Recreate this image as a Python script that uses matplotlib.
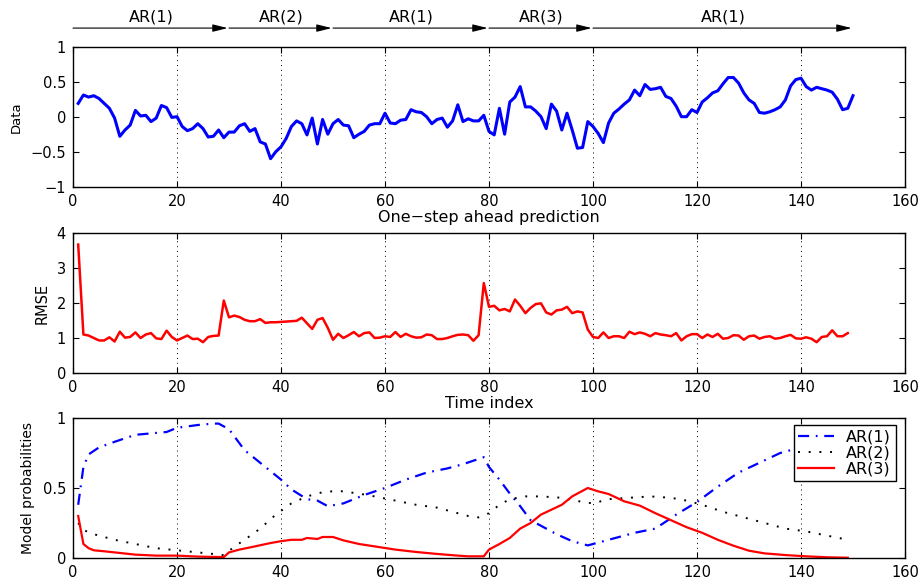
import matplotlib
matplotlib.use("Agg")
import matplotlib.pyplot as plt
import numpy as np

# one-step ahead data, t = 1..150
data_vals = [
    0.19, 0.31, 0.28, 0.30, 0.26, 0.19, 0.12, -0.02, -0.28, -0.19,
    -0.12, 0.09, 0.01, 0.02, -0.07, -0.02, 0.16, 0.13, -0.01, 0.00,
    -0.14, -0.20, -0.17, -0.10, -0.17, -0.29, -0.28, -0.19, -0.30, -0.22,
    -0.22, -0.13, -0.10, -0.21, -0.17, -0.36, -0.39, -0.60, -0.50, -0.43,
    -0.31, -0.14, -0.06, -0.10, -0.26, -0.02, -0.39, -0.04, -0.25, -0.10,
    -0.04, -0.12, -0.13, -0.30, -0.25, -0.21, -0.12, -0.10, -0.10, 0.05,
    -0.09, -0.10, -0.05, -0.04, 0.10, 0.07, 0.06, 0.00, -0.10, -0.04,
    -0.02, -0.15, -0.06, 0.17, -0.07, -0.03, -0.06, -0.06, 0.02, -0.21,
    -0.26, 0.12, -0.25, 0.21, 0.28, 0.43, 0.14, 0.14, 0.08, 0.00,
    -0.17, 0.18, 0.08, -0.19, 0.05, -0.19, -0.45, -0.44, -0.07, -0.14,
    -0.24, -0.37, -0.09, 0.05, 0.11, 0.18, 0.24, 0.38, 0.30, 0.46,
    0.39, 0.40, 0.42, 0.29, 0.26, 0.15, 0.00, 0.00, 0.10, 0.06,
    0.21, 0.27, 0.34, 0.37, 0.47, 0.56, 0.56, 0.48, 0.34, 0.24,
    0.19, 0.06, 0.05, 0.07, 0.10, 0.14, 0.24, 0.44, 0.53, 0.55,
    0.43, 0.38, 0.42, 0.40, 0.38, 0.35, 0.25, 0.10, 0.12, 0.30,
]

# RMSE, t = 1..149
rmse_vals = [
    3.67, 1.10, 1.07, 1.00, 0.93, 0.93, 1.02, 0.90, 1.18, 1.01,
    1.03, 1.16, 1.00, 1.10, 1.14, 0.99, 0.97, 1.21, 1.03, 0.93,
    1.00, 1.07, 0.97, 0.98, 0.88, 1.03, 1.06, 1.07, 2.07, 1.59,
    1.64, 1.60, 1.52, 1.48, 1.48, 1.54, 1.43, 1.45, 1.45, 1.46,
    1.47, 1.48, 1.49, 1.58, 1.42, 1.26, 1.52, 1.57, 1.29, 0.95,
    1.12, 1.00, 1.08, 1.17, 1.05, 1.14, 1.16, 1.00, 1.01, 1.05,
    1.03, 1.17, 1.03, 1.12, 1.05, 1.01, 1.02, 1.10, 1.08, 0.97,
    0.97, 1.00, 1.05, 1.09, 1.10, 1.08, 0.92, 1.08, 2.57, 1.89,
    1.92, 1.79, 1.83, 1.76, 2.10, 1.92, 1.71, 1.86, 1.97, 1.99,
    1.73, 1.67, 1.79, 1.81, 1.89, 1.71, 1.76, 1.73, 1.24, 1.03,
    1.00, 1.16, 1.00, 1.05, 1.05, 1.00, 1.18, 1.11, 1.16, 1.12,
    1.05, 1.14, 1.10, 1.08, 1.05, 1.14, 0.93, 1.05, 1.11, 1.11,
    1.00, 1.10, 1.03, 1.12, 0.98, 1.00, 1.08, 1.07, 0.95, 1.05,
    1.07, 0.98, 1.03, 1.05, 0.98, 1.00, 1.05, 1.09, 0.99, 0.98,
    1.02, 0.98, 0.88, 1.03, 1.05, 1.22, 1.05, 1.05, 1.14,
]

# model probabilities (read at selected time points)
ar1_t = [1, 2, 3, 5, 8, 12, 15, 18, 20, 24, 27, 28, 30, 33, 36, 40, 42, 45, 47, 49,
         52, 56, 60, 64, 68, 72, 75, 79, 80, 82, 84, 86, 88, 90, 93, 96, 99, 101, 104, 108,
         112, 116, 120, 124, 128, 132, 136, 140, 145, 149]
ar1_p = [0.38, 0.65, 0.74, 0.79, 0.83, 0.88, 0.89, 0.90, 0.93, 0.95, 0.96, 0.96, 0.92, 0.77, 0.68, 0.56, 0.49, 0.42, 0.41, 0.37,
         0.39, 0.45, 0.50, 0.56, 0.61, 0.64, 0.67, 0.72, 0.65, 0.56, 0.46, 0.37, 0.27, 0.23, 0.17, 0.12, 0.09, 0.11, 0.14, 0.18,
         0.21, 0.31, 0.40, 0.51, 0.61, 0.68, 0.75, 0.79, 0.83, 0.86]

ar2_t = [1, 2, 4, 8, 12, 16, 20, 24, 28, 29, 31, 33, 36, 39, 42, 45, 48, 51, 55, 58,
         62, 66, 70, 74, 76, 78, 80, 82, 84, 87, 90, 94, 98, 100, 103, 107, 111, 115, 118, 121,
         125, 129, 133, 137, 141, 145, 149]
ar2_p = [0.25, 0.20, 0.17, 0.13, 0.10, 0.07, 0.055, 0.04, 0.025, 0.02, 0.08, 0.13, 0.21, 0.31, 0.39, 0.44, 0.47, 0.48, 0.46, 0.44,
         0.41, 0.38, 0.36, 0.32, 0.30, 0.29, 0.32, 0.38, 0.42, 0.44, 0.44, 0.43, 0.40, 0.39, 0.42, 0.43, 0.44, 0.43, 0.41, 0.38,
         0.33, 0.29, 0.25, 0.21, 0.19, 0.16, 0.13]

ar3_t = [1, 2, 3, 4, 6, 8, 12, 16, 20, 24, 28, 29, 30, 32, 35, 38, 40, 42, 44, 45,
         47, 48, 50, 52, 55, 58, 62, 66, 70, 74, 76, 79, 80, 82, 84, 86, 88, 90, 92, 94,
         96, 99, 101, 103, 106, 109, 112, 115, 118, 121, 124, 127, 130, 133, 137, 141, 145, 149]
ar3_p = [0.30, 0.10, 0.07, 0.055, 0.048, 0.04, 0.024, 0.017, 0.017, 0.01, 0.007, 0.007, 0.04, 0.06, 0.083, 0.107, 0.12, 0.13, 0.13, 0.143,
         0.136, 0.15, 0.15, 0.126, 0.10, 0.083, 0.06, 0.043, 0.029, 0.017, 0.012, 0.012, 0.06, 0.10, 0.143, 0.21, 0.25, 0.31, 0.345, 0.38,
         0.44, 0.50, 0.476, 0.457, 0.405, 0.374, 0.32, 0.27, 0.22, 0.18, 0.13, 0.088, 0.052, 0.033, 0.021, 0.012, 0.005, 0.002]

# regime segments shown above the top panel
seg_start = [0, 30, 50, 80, 100]
seg_end = [30, 50, 80, 100, 150]
seg_label = ["AR(1)", "AR(2)", "AR(1)", "AR(3)", "AR(1)"]

xticks = [0, 20, 40, 60, 80, 100, 120, 140, 160]

plt.rcParams["font.family"] = "DejaVu Sans"
plt.rcParams["font.size"] = 10.5

fig = plt.figure(figsize=(9.24, 5.85), dpi=100)
W, H = 924, 585


def add_panel(top_px, bottom_px):
    left, right = 73, 905
    return fig.add_axes([left / W, 1 - bottom_px / H, (right - left) / W, (bottom_px - top_px) / H])


def style(ax):
    ax.set_xlim(0, 160)
    ax.set_xticks(xticks)
    ax.tick_params(direction="in", top=True, right=True, length=4, width=0.8, labelsize=10.5, pad=5)
    ax.grid(axis="x", linestyle=(0, (1, 4)), color="k", linewidth=0.7)
    for sp in ax.spines.values():
        sp.set_linewidth(1.0)


ax1 = add_panel(46.7, 186.7)
ax2 = add_panel(233, 373)
ax3 = add_panel(418, 558)

t_data = np.arange(1, len(data_vals) + 1)
t_rmse = np.arange(1, len(rmse_vals) + 1)

ax1.plot(t_data, data_vals, color="#0000ff", linewidth=2.2)
ax1.set_ylim(-1, 1)
ax1.set_yticks([-1, -0.5, 0, 0.5, 1])
ax1.set_yticklabels(["\u22121", "\u22120.5", "0", "0.5", "1"])
style(ax1)
ax1.set_ylabel("Data", fontsize=9.5)
ax1.yaxis.set_label_coords(-0.060, 0.5)
ax1.set_xlabel("One\u2212step ahead prediction", fontsize=11.5, labelpad=1)

for s, e, lab in zip(seg_start, seg_end, seg_label):
    ax1.annotate("", xy=(e, 1.133), xytext=(s, 1.133),
                 xycoords=ax1.get_xaxis_transform(), textcoords=ax1.get_xaxis_transform(),
                 arrowprops=dict(arrowstyle="-|>,head_length=0.6,head_width=0.15", color="k",
                                 lw=0.8, mutation_scale=15, shrinkA=0, shrinkB=1),
                 annotation_clip=False)
    ax1.text((s + e) / 2, 1.215, lab, transform=ax1.get_xaxis_transform(),
             ha="center", va="center", fontsize=11.5)

ax2.plot(t_rmse, rmse_vals, color="#ff0000", linewidth=1.8)
ax2.set_ylim(0, 4)
ax2.set_yticks([0, 1, 2, 3, 4])
style(ax2)
ax2.set_ylabel("RMSE", fontsize=10.5)
ax2.yaxis.set_label_coords(-0.028, 0.5)
ax2.set_xlabel("Time index", fontsize=11.5, labelpad=1)

ax3.plot(ar1_t, ar1_p, color="#0000ff", linewidth=1.6, linestyle=(0, (5, 3, 0.8, 3)), label="AR(1)")
ax3.plot(ar2_t, ar2_p, color="k", linewidth=1.4, linestyle=(0, (1, 4.5)), label="AR(2)")
ax3.plot(ar3_t, ar3_p, color="#ff0000", linewidth=1.6, label="AR(3)")
ax3.set_ylim(0, 1)
ax3.set_yticks([0, 0.5, 1])
ax3.set_yticklabels(["0", "0.5", "1"])
style(ax3)
ax3.set_ylabel("Model probabilities", fontsize=10)
ax3.yaxis.set_label_coords(-0.046, 0.5)
leg = ax3.legend(loc="upper right", bbox_to_anchor=(1 - 9 / 832, 1 - 7 / 140), borderaxespad=0,
                 fontsize=11.5, handlelength=2.2, labelspacing=0.05, borderpad=0.3,
                 fancybox=False, framealpha=1, edgecolor="k")
leg.get_frame().set_linewidth(1.0)

fig.savefig("out.png", dpi=100)
